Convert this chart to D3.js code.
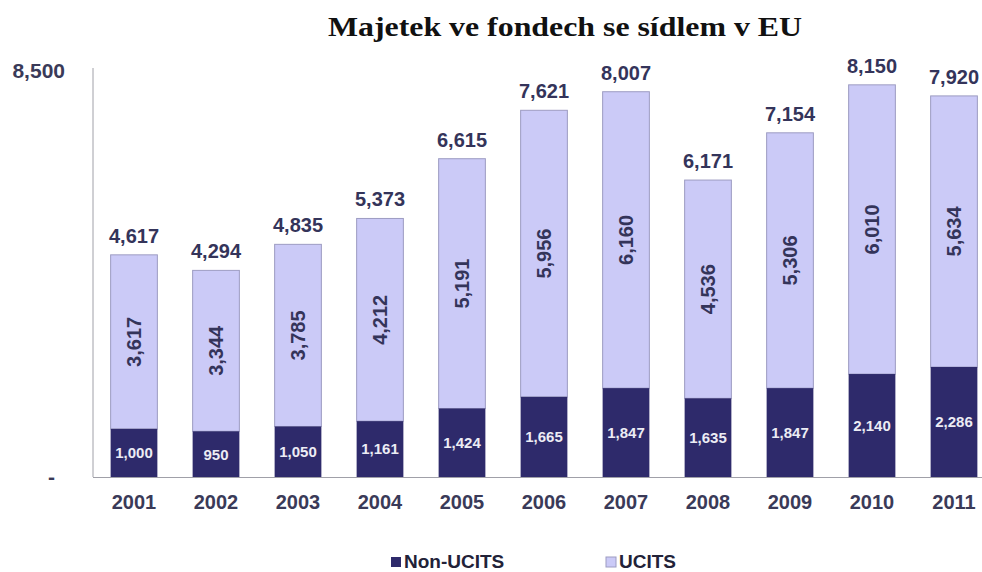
<!DOCTYPE html>
<html><head><meta charset="utf-8">
<script src="https://cdn.jsdelivr.net/npm/d3@7"></script>
<style>
html,body{margin:0;padding:0;background:#fff;}
svg{display:block;}
</style></head>
<body><svg id="c" width="982" height="572"></svg>
<script>
const years = ["2001","2002","2003","2004","2005","2006","2007","2008","2009","2010","2011"];
const nonUcits = [1000,950,1050,1161,1424,1665,1847,1635,1847,2140,2286];
const ucits = [3617,3344,3785,4212,5191,5956,6160,4536,5306,6010,5634];
const totals = [4617,4294,4835,5373,6615,7621,8007,6171,7154,8150,7920];
const yTicks = [0, 8500];
const title = "Majetek ve fondech se sídlem v EU";
const seriesNames = ["Non-UCITS","UCITS"];
const colors = ["#2e2a6b","#cbcaf7"];

const svg = d3.select("#c");
const fmt = d3.format(",");
const x = d3.scaleBand().domain(years).range([93, 995]).paddingInner(0.43).paddingOuter(0.215);
const y = d3.scaleLinear().domain([0, 8500]).range([477, 68]);

// title
svg.append("text").attr("transform","translate(565,36) scale(1.18,1)").attr("text-anchor","middle")
  .attr("font-family","'Liberation Serif','Times New Roman',serif").attr("font-weight","bold")
  .attr("font-size", 27).attr("fill","#111").text(title);

// axes lines
svg.append("line").attr("x1",93).attr("x2",93).attr("y1",y(8500)).attr("y2",y(0)).attr("stroke","#a0a0a8").attr("stroke-width",1);
svg.append("line").attr("x1",93).attr("x2",982).attr("y1",y(0)+0.5).attr("y2",y(0)+0.5).attr("stroke","#a0a0a8").attr("stroke-width",1);

// y tick labels
const yAxis = d3.axisLeft(y).tickValues(yTicks).tickSize(0).tickFormat(d => d === 0 ? "-" : fmt(d));
const yg = svg.append("g").attr("transform","translate(65,0)").call(yAxis);
yg.select(".domain").remove();
yg.selectAll("text").attr("font-family","'Liberation Sans',Arial,sans-serif").attr("font-weight","bold")
  .attr("font-size",21).attr("fill","#3a3a58").attr("dx",0)
  .attr("dy", d => d === 0 ? "0.32em" : "0.45em")
  .attr("x", d => d === 0 ? -10 : 0);

const sans = "'Liberation Sans',Arial,sans-serif";
// bars
const g = svg.append("g");
years.forEach((yr, i) => {
  const bx = x(yr), bw = x.bandwidth();
  g.append("rect").attr("x", bx).attr("width", bw)
    .attr("y", y(nonUcits[i] + ucits[i])).attr("height", y(nonUcits[i]) - y(nonUcits[i] + ucits[i]))
    .attr("fill", colors[1]).attr("stroke","#9d9cc2").attr("stroke-width",1);
  g.append("rect").attr("x", bx).attr("width", bw)
    .attr("y", y(nonUcits[i])).attr("height", y(0) - y(nonUcits[i]))
    .attr("fill", colors[0]);
  const cx = bx + bw/2;
  // non-ucits label
  g.append("text").attr("x", cx).attr("y", (y(0)+y(nonUcits[i]))/2).attr("dy","0.36em")
    .attr("text-anchor","middle").attr("font-family",sans).attr("font-weight","bold")
    .attr("font-size",15).attr("fill","#ececf4").text(fmt(nonUcits[i]));
  // ucits label rotated
  const my = (y(nonUcits[i]) + y(nonUcits[i]+ucits[i]))/2;
  g.append("text").attr("transform",`translate(${cx},${my}) rotate(-90)`).attr("dy","0.36em")
    .attr("text-anchor","middle").attr("font-family",sans).attr("font-weight","bold")
    .attr("font-size",20).attr("fill","#34345a").text(fmt(ucits[i]));
  // total
  g.append("text").attr("x", cx).attr("y", y(totals[i]) - 12)
    .attr("text-anchor","middle").attr("font-family",sans).attr("font-weight","bold")
    .attr("font-size",20).attr("fill","#34345a").text(fmt(totals[i]));
});

// x axis labels
const xAxis = d3.axisBottom(x).tickSize(0);
const xg = svg.append("g").attr("transform",`translate(0,${y(0)})`).call(xAxis);
xg.select(".domain").remove();
xg.selectAll("text").attr("font-family",sans).attr("font-weight","bold").attr("font-size",20)
  .attr("fill","#3a3a58").attr("y",32).attr("dy",0);

// legend
const leg = [{x:391},{x:606}];
seriesNames.forEach((n,i)=>{
  svg.append("rect").attr("x",leg[i].x).attr("y",557).attr("width",10).attr("height",10)
    .attr("fill",colors[i]).attr("stroke", i===1 ? "#9d9cc2":"none");
  svg.append("text").attr("x",leg[i].x+13).attr("y",568).attr("font-family",sans).attr("font-weight","bold")
    .attr("font-size",19).attr("fill","#222238").text(n);
});
</script></body></html>
